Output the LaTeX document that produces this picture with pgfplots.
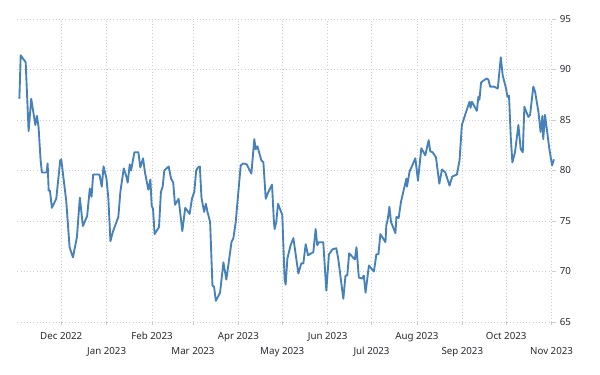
\documentclass[border=0pt]{standalone}
\usepackage{pgfplots}
\pgfplotsset{compat=1.18}
\usepackage{fontspec}
\setmainfont{Noto Sans}
\definecolor{linec}{RGB}{70,130,185}
\definecolor{gridc}{RGB}{205,205,205}
\definecolor{txt}{RGB}{40,40,50}
\begin{document}
\begin{tikzpicture}[x=1pt,y=1pt]
\useasboundingbox (0,0) rectangle (450,281.25);
\begin{axis}[
  at={(13pt,39.75pt)}, anchor=south west,
  scale only axis, width=401.8pt, height=227.3pt,
  xmin=-30, xmax=336, ymin=65, ymax=95,
  axis line style={draw=none},
  grid=major,
  major grid style={dotted, gridc, line width=0.6pt},
  ytick={65,70,75,80,85,90,95},
  ytick pos=right, yticklabel pos=right,
  xtick pos=bottom,
  tick align=outside, major tick length=2.5pt,
  tick style={gridc, line width=0.6pt},
  /pgf/number format/assume math mode=true,
  ticklabel style={font=\fontsize{7.3}{8}\selectfont, text=txt},
  yticklabel style={anchor=west, xshift=-1pt},
  xtick={0,62,121,182,243,304},
  xticklabels={Dec 2022,Feb 2023,Apr 2023,Jun 2023,Aug 2023,Oct 2023},
  xticklabel style={anchor=base, yshift=-10.5pt},
  extra x ticks={31,90,151,212,274,335},
  extra x tick labels={Jan 2023,Mar 2023,May 2023,Jul 2023,Sep 2023,Nov 2023},
  extra x tick style={grid=major, xticklabel style={yshift=-11.25pt}},
  clip=false,
]
\addplot[linec, line width=1.4pt, line join=round, no markers] coordinates {
(-28.6,87.1)(-27.7,91.4)(-24.3,90.7)(-22.3,83.9)(-20.5,87.1)(-17.7,84.5)(-16.6,85.4)(-15.5,84.3)
(-14.1,81.0)(-13.2,79.8)(-10.0,79.8)(-9.3,80.7)(-8.6,78.0)(-7.7,78.0)(-6.4,76.3)(-3.4,77.2)
(-0.7,81.0)(0,81.1)(3.4,77.0)(5.7,72.4)(8.0,71.4)(10.7,73.4)(12.7,77.3)(14.8,74.5)(17.7,75.5)
(19.5,78.2)(20.7,77.4)(21.8,79.6)(26.1,79.6)(27.7,78.4)(28.9,80.4)(30.9,79.2)
(32.2,77.2)(33.6,73.0)(35.2,73.9)(39.0,75.4)(40.4,77.9)(42.7,80.2)(44.3,79.5)(45.4,78.8)
(46.8,80.6)(47.7,80.0)(50.0,81.8)(52.7,81.8)(54.0,80.3)(55.9,81.2)(57.2,79.8)(59.5,78.1)
(60.9,79.1)(61.8,76.5)(62.7,76.2)(63.8,73.7)(66.8,74.4)(68.1,77.9)(69.3,78.4)(70.4,80.0)
(73.4,80.4)(75.0,79.2)(76.5,78.8)(77.7,76.6)(80.2,77.2)(82.7,74.0)(84.7,76.3)(87.7,75.7)
(89.3,77.2)(90.9,77.9)(92.2,80.0)(93.5,80.3)(94.7,80.4)(95.8,77.3)(97.6,75.9)(98.8,76.7)
(99.9,75.9)(101.7,74.9)(103.3,68.6)(104.4,68.5)(105.6,67.1)(108.5,67.9)(110.8,70.9)
(112.8,69.2)(116.3,72.9)(117.6,73.3)(119.2,74.9)(122.6,80.5)(124.4,80.7)(126.7,80.6)
(129.9,79.7)(131.9,83.1)(132.8,82.1)(134.0,82.4)(136.7,81.0)(138.1,80.8)(139.7,77.2)
(141.3,77.8)(144.0,78.6)(145.3,74.9)(145.8,74.2)(146.9,74.9)(148.1,76.7)(151.0,75.6)
(152.6,69.2)(153.3,68.7)(154.5,71.3)(156.7,72.6)(158.6,73.3)(162.0,69.8)(164.0,70.8)
(165.4,70.8)(167.0,72.7)(168.6,71.6)(170.8,71.8)(172.2,71.9)(173.8,74.2)(174.9,72.6)
(176.1,72.9)(179.0,72.9)(181.1,68.1)(182.9,71.7)(185.4,72.2)(187.9,72.3)(189.2,71.3)
(192.7,67.3)(194.2,69.6)(195.4,69.6)(196.7,71.8)(199.9,71.3)(200.6,71.2)(201.7,72.4)
(203.3,69.4)(205.6,69.3)(206.7,69.6)(207.9,67.9)(210.2,70.6)(211.8,70.3)(213.6,70.0)
(215.3,71.7)(216.7,71.7)(218.0,73.7)(221.5,72.9)(222.1,74.6)(223.0,75.1)(224.2,76.4)
(225.3,74.9)(228.3,73.8)(229.0,75.4)(230.5,75.3)(232.1,76.9)(235.8,79.2)(236.2,78.4)
(238.0,79.9)(241.9,81.2)(243.7,79.0)(246.0,82.2)(248.7,81.5)(251.0,83.0)(252.1,81.9)
(253.7,81.8)(256.0,81.3)(258.3,78.7)(260.1,80.1)(262.4,79.8)(265.3,78.5)(267.1,79.4)
(270.3,79.6)(272.1,81.0)(273.7,84.5)(274.8,85.0)(276.6,85.8)(278.9,86.8)(279.6,86.2)
(280.5,86.8)(282.1,86.4)(283.9,85.9)(285.0,87.3)(285.7,87.0)(286.8,88.7)(288.4,88.9)
(290.7,89.1)(291.8,89.0)(293.0,88.3)(295.7,88.3)(298.2,88.1)(300.3,91.2)(301.6,89.4)
(303.9,88.1)(304.8,87.3)(305.9,87.4)(307.1,83.3)(308.2,80.8)(310.0,81.8)(312.3,84.5)
(313.9,82.1)(315.3,81.8)(316.4,86.3)(319.1,85.3)(320.3,85.5)(322.5,88.3)(323.7,87.8)
(326.0,85.8)(327.5,83.8)(328.7,85.4)(329.3,83.1)(330.5,85.5)(333.4,82.2)(335.3,80.5)
(336.6,81.1)
};
\end{axis}
\end{tikzpicture}
\end{document}
